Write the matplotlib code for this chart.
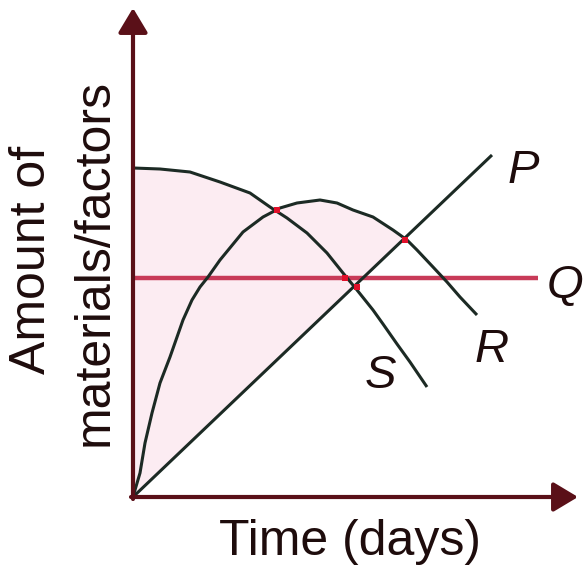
import numpy as np
import matplotlib
matplotlib.use("Agg")
import matplotlib.pyplot as plt

# ---- data (units: arbitrary, origin at the axes corner) ----
s_x = [0, 27, 57, 87, 117, 137, 154, 174, 194, 210, 224, 240, 250, 264, 277, 294]
s_y = [329, 328, 325, 315, 304, 290, 279, 264, 244, 224, 207, 187, 173, 153, 135, 110]

r_x = [0, 2, 7, 12, 19, 27, 37, 50, 59, 67, 75, 87, 110, 130, 147, 164, 187,
       204, 220, 240, 260, 274, 284, 300, 314, 327, 344]
r_y = [0, 7, 24, 54, 84, 114, 140, 177, 197, 210, 220, 237, 265, 280, 289, 294,
       297, 294, 287, 280, 267, 257, 247, 230, 215, 200, 182]

p_x = [0, 359]
p_y = [0, 342]

q_x = [0, 405]
q_y = [219, 219]

labels = ["P", "Q", "R", "S"]
label_x = [375, 414, 342, 232]
label_y = [314, 199, 135, 109]

mark_x = [144, 272, 212, 224]
mark_y = [287, 257, 219, 210]

line_col = "#1c2a24"
axis_col = "#5a1018"
text_col = "#1e0c0c"

fig = plt.figure(figsize=(5.84, 5.67), dpi=100)
ax = fig.add_axes([0, 0, 1, 1])
ax.set_xlim(-133, 451)
ax.set_ylim(-70, 497)
ax.axis("off")

# shaded region: above P and below the upper envelope of S and R
gx = np.linspace(0, 290, 400)
sy = np.interp(gx, s_x, s_y)
ry = np.interp(gx, r_x, r_y)
py = np.interp(gx, p_x, p_y)
top = np.maximum(sy, ry)
ax.fill_between(gx, py, top, where=top > py, color="#fcecf2", lw=0, zorder=1)

# curves
ax.plot(s_x, s_y, color=line_col, lw=2.2, zorder=3, solid_capstyle="butt")
ax.plot(r_x, r_y, color=line_col, lw=2.2, zorder=3, solid_capstyle="butt")
ax.plot(p_x, p_y, color=line_col, lw=2.2, zorder=3, solid_capstyle="butt")
ax.plot(q_x, q_y, color="#c83a58", lw=3.2, zorder=2, solid_capstyle="butt")
ax.plot(mark_x, mark_y, ls="none", marker="s", ms=5, color="#e0102a", mew=0, zorder=4)

# axes with arrows
arrow_kw = dict(arrowstyle="-|>,head_length=0.75,head_width=0.45", lw=3,
                color=axis_col, shrinkA=0, shrinkB=0, mutation_scale=20)
ax.annotate("", xy=(0, 489), xytext=(0, -2), arrowprops=arrow_kw, zorder=5)
ax.annotate("", xy=(445, 0), xytext=(-2, 0), arrowprops=arrow_kw, zorder=5)

font = "Liberation Sans"
for lab, lx, ly in zip(labels, label_x, label_y):
    ax.text(lx, ly, lab, fontsize=34, style="italic", family=font,
            color=text_col, ha="left", va="baseline", zorder=6)

ax.text(217, -58, "Time (days)", fontsize=36, family=font, color=text_col,
        ha="center", va="baseline")
ax.text(-88, 237, "Amount of", fontsize=36, family=font, color=text_col,
        rotation=90, rotation_mode="anchor", ha="center", va="baseline")
ax.text(-25, 235, "materials/factors", fontsize=36, family=font, color=text_col,
        rotation=90, rotation_mode="anchor", ha="center", va="baseline")

fig.savefig("out.png", dpi=100)
